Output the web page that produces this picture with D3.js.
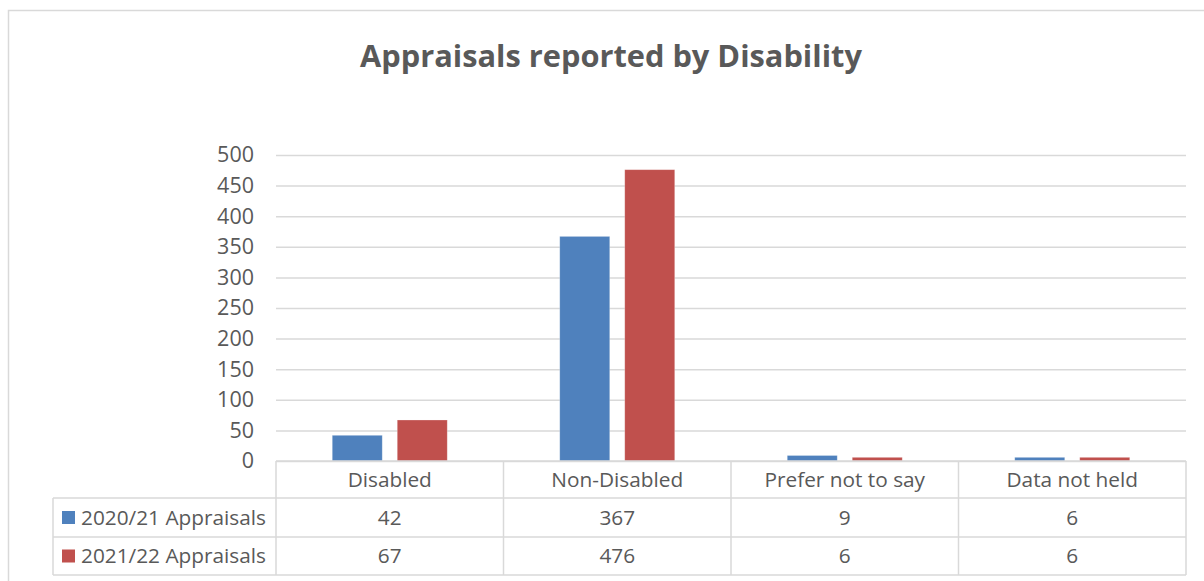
<!DOCTYPE html>
<html>
<head>
<meta charset="utf-8">
<script src="https://cdn.jsdelivr.net/npm/d3@7"></script>
<style>
  html, body { margin: 0; padding: 0; background: #fff; }
  svg { display: block; }
  text { font-family: "Open Sans", "Noto Sans", sans-serif; fill: #595959; }
</style>
</head>
<body>
<svg id="chart" width="1204" height="581"></svg>
<script>
// Chart data
const categories = ["Disabled", "Non-Disabled", "Prefer not to say", "Data not held"];
const seriesNames = ["2020/21 Appraisals", "2021/22 Appraisals"];
const values2020 = [42, 367, 9, 6];
const values2021 = [67, 476, 6, 6];
const yTicks = [0, 50, 100, 150, 200, 250, 300, 350, 400, 450, 500];
const colors = ["#4F81BD", "#C0504D"];

const seriesValues = [values2020, values2021];

const svg = d3.select("#chart");
const W = 1204, H = 581;
const grid = "#d9d9d9";
const labelSize = 20.8;

// outer chart frame
svg.append("rect")
  .attr("x", 8.5).attr("y", 10.5)
  .attr("width", W + 20).attr("height", H + 20)
  .attr("fill", "none").attr("stroke", grid).attr("stroke-width", 1.5);

// title
const title = svg.append("text")
  .attr("x", 611).attr("y", 67)
  .attr("text-anchor", "middle")
  .attr("font-size", 29).attr("font-weight", "bold")
  .text("Appraisals reported by Disability");
{
  const w = title.node().getComputedTextLength();
  title.attr("font-size", 29 * 502 / w);
}

// plot area
const plotLeft = 276, plotRight = 1186, plotTop = 155, plotBottom = 461;
const x = d3.scaleBand().domain(categories).range([plotLeft, plotRight]).paddingInner(0).paddingOuter(0);
const y = d3.scaleLinear().domain([0, 500]).range([plotBottom, plotTop]);

const barW = 50, barGap = 15;

// gridlines and y axis labels
const yAxis = d3.axisLeft(y).tickValues(yTicks).tickSize(-(plotRight - plotLeft)).tickPadding(22);
const gy = svg.append("g").attr("transform", `translate(${plotLeft},0)`).call(yAxis);
gy.select(".domain").remove();
gy.selectAll(".tick line").attr("stroke", grid).attr("stroke-width", 1.5);
gy.selectAll(".tick text")
  .attr("font-size", 21.5).attr("fill", "#595959")
  .style("font-family", '"Open Sans", "Noto Sans", sans-serif');

// bars
const groupInner = 2 * barW + barGap;
categories.forEach((c, ci) => {
  const x0 = x(c) + (x.bandwidth() - groupInner) / 2;
  seriesValues.forEach((vals, si) => {
    svg.append("rect")
      .attr("x", x0 + si * (barW + barGap))
      .attr("y", y(vals[ci]))
      .attr("width", barW)
      .attr("height", y(0) - y(vals[ci]))
      .attr("fill", colors[si])
      .attr("stroke", "#ffffff").attr("stroke-opacity", 0.35).attr("stroke-width", 0.75);
  });
});

// data table
const tableLeft = 53;
const rowY = [461, 498, 537, 575];
const lineAttrs = s => s.attr("stroke", grid).attr("stroke-width", 1.5).attr("fill", "none");

// horizontal rules
lineAttrs(svg.append("line").attr("x1", plotLeft).attr("x2", plotRight).attr("y1", rowY[0]).attr("y2", rowY[0]));
[1, 2, 3].forEach(i => {
  lineAttrs(svg.append("line").attr("x1", tableLeft).attr("x2", plotRight).attr("y1", rowY[i]).attr("y2", rowY[i]));
});
// vertical rules
categories.forEach(c => {
  lineAttrs(svg.append("line").attr("x1", x(c)).attr("x2", x(c)).attr("y1", rowY[0]).attr("y2", rowY[3]));
});
lineAttrs(svg.append("line").attr("x1", plotRight).attr("x2", plotRight).attr("y1", rowY[0]).attr("y2", rowY[3]));
lineAttrs(svg.append("line").attr("x1", tableLeft).attr("x2", tableLeft).attr("y1", rowY[1]).attr("y2", rowY[3]));

// category header
svg.selectAll("text.cat").data(categories).enter().append("text")
  .attr("class", "cat")
  .attr("x", d => x(d) + x.bandwidth() / 2)
  .attr("y", (rowY[0] + rowY[1]) / 2)
  .attr("dy", "0.35em")
  .attr("text-anchor", "middle")
  .attr("font-size", labelSize)
  .text(d => d);

// series rows
seriesNames.forEach((name, si) => {
  const cy = (rowY[si + 1] + rowY[si + 2]) / 2;
  svg.append("rect")
    .attr("x", 62).attr("y", cy - 6.5).attr("width", 13).attr("height", 13)
    .attr("fill", colors[si]);
  svg.append("text")
    .attr("x", 81).attr("y", cy).attr("dy", "0.35em")
    .attr("font-size", labelSize)
    .text(name);
  categories.forEach((c, ci) => {
    svg.append("text")
      .attr("x", x(c) + x.bandwidth() / 2)
      .attr("y", cy).attr("dy", "0.35em")
      .attr("text-anchor", "middle")
      .attr("font-size", labelSize)
      .text(seriesValues[si][ci]);
  });
});
</script>
</body>
</html>
